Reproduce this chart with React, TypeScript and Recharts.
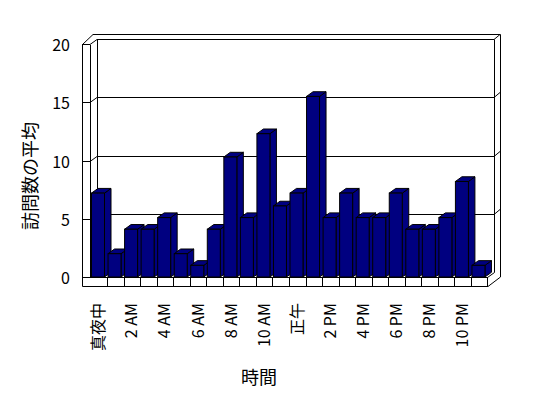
import React from "react";
import { BarChart, Bar, XAxis, YAxis, CartesianGrid } from "recharts";

const hours = [
  "真夜中", "1 AM", "2 AM", "3 AM", "4 AM", "5 AM", "6 AM", "7 AM", "8 AM", "9 AM", "10 AM", "11 AM",
  "正午", "1 PM", "2 PM", "3 PM", "4 PM", "5 PM", "6 PM", "7 PM", "8 PM", "9 PM", "10 PM", "11 PM",
];
const visits = [
  7.2, 2, 4.1, 4.1, 5.1, 2, 1, 4.1, 10.3, 5.1, 12.3, 6.1,
  7.2, 15.5, 5.1, 7.2, 5.1, 5.1, 7.2, 4.1, 4.1, 5.1, 8.2, 1,
];
const yTicks = [0, 5, 10, 15, 20];
const xTitle = "時間";
const yTitle = "訪問数の平均";

const data = hours.map((h, i) => ({ hour: h, visits: visits[i] }));

const W = 548;
const H = 398;
const LEFT = 90;
const TOP = 44;
const RIGHT = 487;
const BOTTOM = 277;
const FONT = "'Noto Sans CJK JP', 'Noto Sans', sans-serif";
const NAVY = "#000080";
const BDX = 6.5;
const BDY = 4.7;

const Bar3D = (props: any) => {
  const { x, y, width, height } = props;
  const fx = x + 1.5;
  const fw = 13;
  const bottom = y + height;
  const sep = Math.round(x + width) + 0.5;
  return (
    <g>
      <line x1={sep} y1={bottom} x2={sep} y2={bottom + 9} stroke="#000" strokeWidth={1} shapeRendering="crispEdges" />
      <path
        d={`M${fx + fw},${bottom} L${fx + fw},${y} L${fx + fw + BDX},${y - BDY} L${fx + fw + BDX},${bottom - BDY} Z`}
        fill={NAVY}
        stroke="#000"
        strokeWidth={1}
      />
      <path
        d={`M${fx},${y} L${fx + BDX},${y - BDY} L${fx + fw + BDX},${y - BDY} L${fx + fw},${y} Z`}
        fill={NAVY}
        stroke="#000"
        strokeWidth={1}
      />
      <rect x={fx} y={y} width={fw} height={height} fill={NAVY} stroke="#000" strokeWidth={1} />
    </g>
  );
};

const GridLine = (props: any) => {
  const { y1 } = props;
  const y = Math.round(y1) + 0.5;
  if (y1 > BOTTOM - 1) {
    return <path d={`M82,${y} H90`} stroke="#000" fill="none" shapeRendering="crispEdges" />;
  }
  return (
    <path
      d={`M82,${y} H90 L97,${y - 5} H494 L500,${y - 10}`}
      stroke="#000"
      strokeWidth={1}
      fill="none"
    />
  );
};

const XTick = (props: any) => {
  const { x, y, payload } = props;
  return (
    <text
      x={x - 1}
      y={y}
      transform={`rotate(-90 ${x - 1} ${y})`}
      textAnchor="end"
      dominantBaseline="central"
      fontSize={16}
      fontFamily={FONT}
      fill="#000"
    >
      {payload.value}
    </text>
  );
};

const YTick = (props: any) => {
  const { x, y, payload } = props;
  return (
    <text x={x} y={y} textAnchor="end" dominantBaseline="central" fontSize={16} fontFamily={FONT} fill="#000">
      {payload.value}
    </text>
  );
};

const Frame = () => (
  <svg width={W} height={H} style={{ position: "absolute", left: 0, top: 0 }}>
    <rect x={0} y={0} width={W} height={H} fill="#fff" />
    <path
      d="M82.5,286.5 V44.5 L93,34.5 H500.5 V277 L488,286.5 Z"
      fill="#fff"
      stroke="#000"
      strokeWidth={1}
    />
    <path d="M90.5,44.5 V277.5" stroke="#000" fill="none" shapeRendering="crispEdges" />
    <path d="M97.5,39.5 V272.5" stroke="#000" fill="none" shapeRendering="crispEdges" />
    <path d="M494.5,39.5 V272.5 L487.5,277.5" stroke="#000" fill="none" />
    <path d="M90.5,277.5 H487.5 V286.5" stroke="#000" fill="none" shapeRendering="crispEdges" />
    <text x={259} y={376} textAnchor="middle" dominantBaseline="central" fontSize={18} fontFamily={FONT} fill="#000">
      {xTitle}
    </text>
    <text
      x={29}
      y={176}
      transform="rotate(-90 29 176)"
      textAnchor="middle"
      dominantBaseline="central"
      fontSize={18}
      fontFamily={FONT}
      fill="#000"
    >
      {yTitle}
    </text>
  </svg>
);

export default function App() {
  return (
    <div style={{ position: "absolute", left: 0, top: 0, width: W, height: H, background: "#fff" }}>
      <Frame />
      <div style={{ position: "absolute", left: 0, top: 0 }}>
        <BarChart
          width={W}
          height={H}
          data={data}
          margin={{ top: TOP, left: 0, right: W - RIGHT, bottom: 0 }}
          barCategoryGap={0}
          barGap={0}
        >
          <CartesianGrid vertical={false} horizontal={GridLine as any} />
          <XAxis
            dataKey="hour"
            height={H - BOTTOM}
            interval={1}
            axisLine={false}
            tickLine={false}
            tickSize={0}
            tickMargin={26}
            tick={XTick}
          />
          <YAxis
            width={LEFT}
            domain={[0, 20]}
            ticks={yTicks}
            axisLine={false}
            tickLine={false}
            tickSize={0}
            tickMargin={20}
            tick={YTick}
          />
          <Bar dataKey="visits" shape={Bar3D} isAnimationActive={false} />
        </BarChart>
      </div>
    </div>
  );
}
